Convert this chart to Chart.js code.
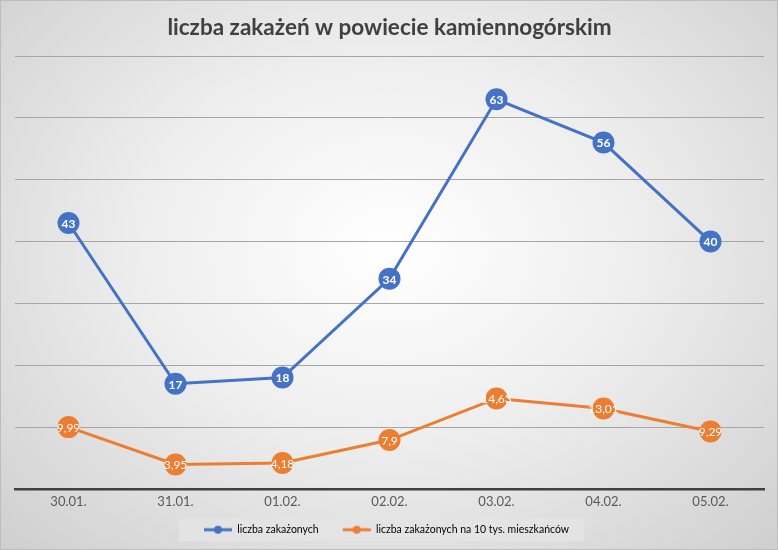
<!DOCTYPE html>
<html>
<head>
<meta charset="utf-8">
<script src="https://cdn.jsdelivr.net/npm/chart.js@4"></script>
<style>
  body { margin: 0; }
  #wrap {
    width: 776px; height: 548px;
    border: 1px solid #bdbdbd;
    background: radial-gradient(ellipse farthest-corner at 50% 45%, #ffffff 0%, #eeeeee 45%, #cfcfcf 100%);
  }
</style>
</head>
<body>
<div id="wrap"><canvas id="chart" width="776" height="548"></canvas></div>
<script>
const labels = ["30.01.", "31.01.", "01.02.", "02.02.", "03.02.", "04.02.", "05.02."];
const zakazeni = [43, 17, 18, 34, 63, 56, 40];
const na10tys = [9.99, 3.95, 4.18, 7.9, 14.63, 13.01, 9.29];

const BLUE = "#4472C4";
const ORANGE = "#ED7D31";
const FONT = "Lato, 'Open Sans', sans-serif";

// legend marker: empty space on the left, then line with a dot
function legendMark(color) {
  const c = document.createElement("canvas");
  c.width = 42; c.height = 10;
  const g = c.getContext("2d");
  g.strokeStyle = color; g.lineWidth = 3;
  g.beginPath(); g.moveTo(14, 5); g.lineTo(42, 5); g.stroke();
  g.fillStyle = color;
  g.beginPath(); g.arc(28, 5, 4, 0, Math.PI * 2); g.fill();
  return c;
}

// white value labels inside the markers
const valueLabels = {
  id: "valueLabels",
  afterDatasetsDraw(chart) {
    const ctx = chart.ctx;
    ctx.save();
    ctx.fillStyle = "#ffffff";
    ctx.textAlign = "center";
    ctx.textBaseline = "middle";
    chart.data.datasets.forEach((ds, i) => {
      ctx.font = (i === 0 ? "bold " : "") + "12px " + FONT;
      chart.getDatasetMeta(i).data.forEach((pt, j) => {
        ctx.fillText(String(ds.data[j]).replace(".", ","), pt.x, pt.y + 1);
      });
    });
    ctx.restore();
  }
};

// grey box behind the legend, legend nudged a bit to the left
const legendBox = {
  id: "legendBox",
  afterLayout(chart) {
    chart.legend.left -= 10;
    chart.legend.right -= 10;
  },
  beforeDraw(chart) {
    const lg = chart.legend;
    if (!lg || !lg.legendHitBoxes.length) return;
    const boxes = lg.legendHitBoxes;
    const l = boxes[0].left + 14 - 25;
    const last = boxes[boxes.length - 1];
    const r = last.left + last.width + 15;
    const cy = boxes[0].top + boxes[0].height / 2;
    chart.ctx.save();
    chart.ctx.fillStyle = "rgba(228,228,228,0.85)";
    chart.ctx.fillRect(l, cy - 11.5, r - l, 23);
    chart.ctx.restore();
  }
};

new Chart(document.getElementById("chart"), {
  type: "line",
  data: {
    labels,
    datasets: [
      {
        label: "liczba zakażonych",
        data: zakazeni,
        borderColor: BLUE,
        backgroundColor: BLUE,
        borderWidth: 3,
        pointRadius: 11,
        pointHoverRadius: 11,
        pointBorderWidth: 0
      },
      {
        label: "liczba zakażonych na 10 tys. mieszkańców",
        data: na10tys,
        borderColor: ORANGE,
        backgroundColor: ORANGE,
        borderWidth: 3,
        pointRadius: 11,
        pointHoverRadius: 11,
        pointBorderWidth: 0
      }
    ]
  },
  options: {
    responsive: false,
    animation: false,
    devicePixelRatio: 1,
    layout: { padding: { left: 14, right: 13, top: 0, bottom: 4 } },
    scales: {
      x: {
        offset: true,
        grid: { display: false, drawTicks: false },
        border: { display: true, color: "#404040", width: 2.5 },
        ticks: { color: "#595959", font: { family: FONT, size: 13 }, padding: 5 }
      },
      y: {
        min: 0, max: 70,
        ticks: { display: false, stepSize: 10 },
        grid: { color: "#a6a6a6", lineWidth: 1, drawTicks: false },
        border: { display: false }
      }
    },
    plugins: {
      title: {
        display: true,
        text: "liczba zakażeń w powiecie kamiennogórskim",
        color: "#404040",
        font: { family: FONT, size: 22.5, weight: "bold" },
        padding: { top: 13, bottom: 15 }
      },
      legend: {
        position: "bottom",
        labels: {
          color: "#595959",
          font: { family: FONT, size: 10.5 },
          usePointStyle: true,
          pointStyleWidth: 42,
          padding: 10,
          generateLabels(chart) {
            return chart.data.datasets.map((ds, i) => ({
              text: ds.label,
              pointStyle: legendMark(ds.borderColor),
              fillStyle: ds.borderColor,
              strokeStyle: ds.borderColor,
              lineWidth: 0,
              datasetIndex: i
            }));
          }
        }
      },
      tooltip: { enabled: false }
    }
  },
  plugins: [legendBox, valueLabels]
});
</script>
</body>
</html>
